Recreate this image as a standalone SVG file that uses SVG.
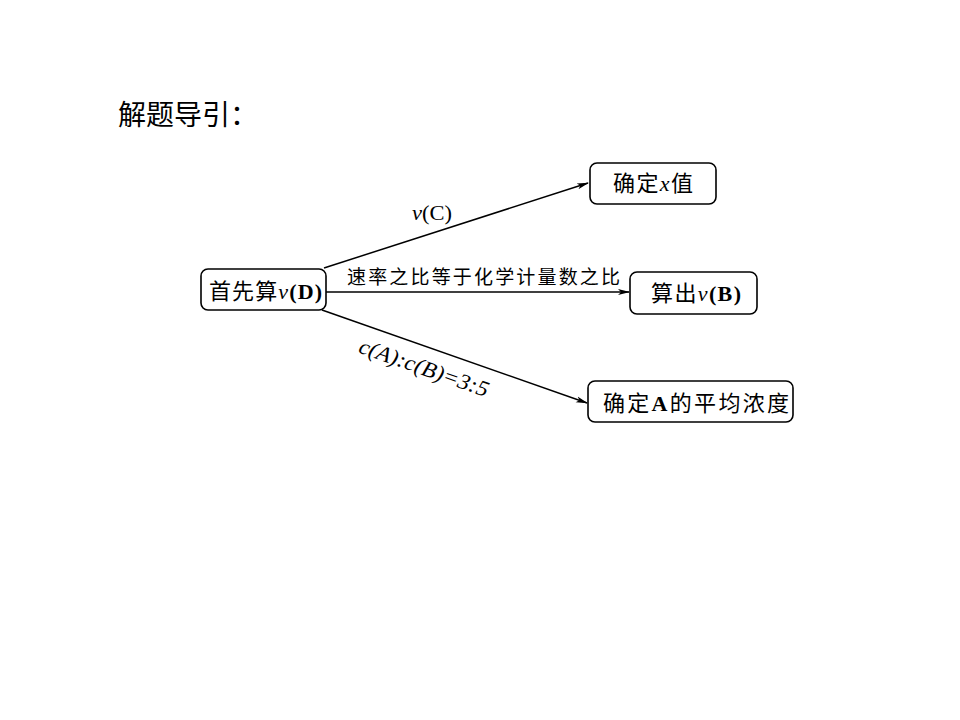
<svg xmlns="http://www.w3.org/2000/svg" width="960" height="720" viewBox="0 0 960 720">
<style>
.box{fill:#fff;stroke:#000;stroke-width:1.6}
.t{font-family:"Liberation Serif","Noto Sans CJK SC",serif;font-size:22px;fill:#000}
.lab{font-family:"Liberation Serif","Noto Sans CJK SC",serif;font-size:19px;fill:#000}
.i{font-style:italic}
.b{font-weight:bold}
.edge{stroke:#000;stroke-width:1.5;fill:none;marker-end:url(#ah)}
</style>
<defs>
<marker id="ah" markerWidth="12" markerHeight="8" refX="11" refY="4" orient="auto" markerUnits="userSpaceOnUse">
<path d="M0,1 L12,4 L0,7 L3,4 Z" fill="#000"/>
</marker>
</defs>
<rect width="960" height="720" fill="#fff"/>
<text x="118" y="125" style="font-family:'Noto Sans CJK SC','Noto Sans',sans-serif;font-size:28px;fill:#000">解题导引：</text>
<g id="connectors">
<line class="edge" x1="324" y1="268" x2="588" y2="183"/>
<line class="edge" x1="326" y1="292" x2="629" y2="292"/>
<line class="edge" x1="322" y1="310" x2="587" y2="403"/>
<text class="t" x="412" y="220" textLength="40" lengthAdjust="spacingAndGlyphs"><tspan class="i">v</tspan>(C)</text>
<text class="lab" x="347" y="284" textLength="273" lengthAdjust="spacing">速率之比等于化学计量数之比</text>
<text class="t" transform="translate(424,368) rotate(19.3)" x="0" y="7" text-anchor="middle" textLength="136" lengthAdjust="spacingAndGlyphs"><tspan class="i">c(A):c(B)=3:5</tspan></text>
</g>
<g id="n1">
<rect class="box" x="201" y="269" width="125" height="41" rx="7"/>
<text class="t" x="209" y="299" textLength="113" lengthAdjust="spacing">首先算<tspan class="i">v</tspan><tspan class="b">(D)</tspan></text>
</g>
<g id="n2">
<rect class="box" x="590" y="163" width="126" height="41" rx="7"/>
<text class="t" x="613" y="191" textLength="80" lengthAdjust="spacing">确定<tspan class="i">x</tspan>值</text>
</g>
<g id="n3">
<rect class="box" x="630" y="272" width="127" height="42" rx="7"/>
<text class="t" x="651" y="301" textLength="90" lengthAdjust="spacing">算出<tspan class="i">v</tspan><tspan class="b">(B)</tspan></text>
</g>
<g id="n4">
<rect class="box" x="588" y="381" width="205" height="41" rx="7"/>
<text class="t" x="603" y="411" textLength="186" lengthAdjust="spacing">确定<tspan class="b">A</tspan>的平均浓度</text>
</g>
</svg>
